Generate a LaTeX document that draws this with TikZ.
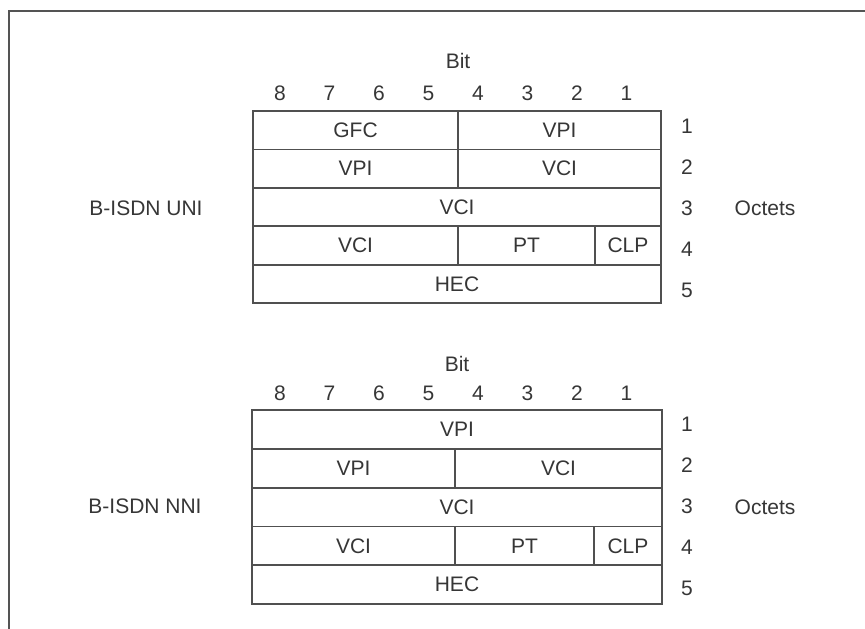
\documentclass[tikz,border=0pt]{standalone}
\usepackage{fontspec}
\setmainfont{Liberation Sans}
\usepackage{tikz}

\definecolor{inkgray}{HTML}{363636}
\definecolor{linegray}{HTML}{505050}

\begin{document}
\begin{tikzpicture}[x=1pt, y=-1pt,
  every node/.style={font=\fontsize{21}{24}\selectfont, text=inkgray},
  cellline/.style={draw=linegray, line width=1.8pt},
  framline/.style={draw=inkgray!85, line width=2pt}]
  \useasboundingbox (0,0) rectangle (865,629);
  % frame
  \draw[framline] (9,629) -- (9,11) -- (865,11);

  % UNI
  \begin{scope}[shift={(253,111)}]
    \node (ubit) at (205,-50) {Bit};
    \foreach \b [count=\i from 0] in {8,7,6,5,4,3,2,1}
      \node (ub\b) at (27+49.5*\i,-18) {\b};
    \draw[cellline] (0,0) rectangle (205,38.4) node[pos=0.5] (ugfc) {GFC};
    \draw[cellline] (205,0) rectangle (408,38.4) node[pos=0.5] (uvpia) {VPI};
    \draw[cellline] (0,38.4) rectangle (205,76.8) node[pos=0.5] (uvpib) {VPI};
    \draw[cellline] (205,38.4) rectangle (408,76.8) node[pos=0.5] (uvcia) {VCI};
    \draw[cellline] (0,76.8) rectangle (408,115.2) node[pos=0.5] (uvcib) {VCI};
    \draw[cellline] (0,115.2) rectangle (205,153.6) node[pos=0.5] (uvcic) {VCI};
    \draw[cellline] (205,115.2) rectangle (342,153.6) node[pos=0.5] (upt) {PT};
    \draw[cellline] (342,115.2) rectangle (408,153.6) node[pos=0.5] (uclp) {CLP};
    \draw[cellline] (0,153.6) rectangle (408,192) node[pos=0.5] (uhec) {HEC};
    \foreach \k in {1,...,5}
      \node (uo\k) at (434,15+41*\k-41) {\k};
    \node (uoct) at (512,97) {Octets};
    \node (uni) at (-107,97) {B-ISDN UNI};
  \end{scope}

  % NNI
  \begin{scope}[shift={(252,410)}]
    \node (nbit) at (205,-46) {Bit};
    \foreach \b [count=\i from 0] in {8,7,6,5,4,3,2,1}
      \node (nb\b) at (28+49.5*\i,-17) {\b};
    \draw[cellline] (0,0) rectangle (410,38.8) node[pos=0.5] (nvpia) {VPI};
    \draw[cellline] (0,38.8) rectangle (203,77.6) node[pos=0.5] (nvpib) {VPI};
    \draw[cellline] (203,38.8) rectangle (410,77.6) node[pos=0.5] (nvcia) {VCI};
    \draw[cellline] (0,77.6) rectangle (410,116.4) node[pos=0.5] (nvcib) {VCI};
    \draw[cellline] (0,116.4) rectangle (203,155.2) node[pos=0.5] (nvcic) {VCI};
    \draw[cellline] (203,116.4) rectangle (342,155.2) node[pos=0.5] (npt) {PT};
    \draw[cellline] (342,116.4) rectangle (410,155.2) node[pos=0.5] (nclp) {CLP};
    \draw[cellline] (0,155.2) rectangle (410,194) node[pos=0.5] (nhec) {HEC};
    \foreach \k in {1,...,5}
      \node (no\k) at (435,14+41*\k-41) {\k};
    \node (noct) at (513,97) {Octets};
    \node (nni) at (-107,96) {B-ISDN NNI};
  \end{scope}
\end{tikzpicture}
\end{document}
